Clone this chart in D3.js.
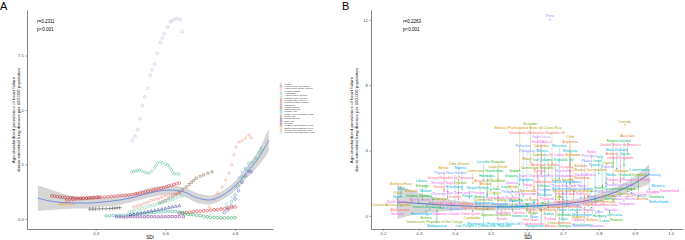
<!DOCTYPE html>
<html>
<head>
<meta charset="utf-8">
<script src="https://cdn.jsdelivr.net/npm/d3@7"></script>
<style>
  body { margin: 0; background: #fff; }
  svg { display: block; font-family: "Liberation Sans", Arial, sans-serif; }
</style>
</head>
<body>
<svg id="chart" width="685" height="240"></svg>
<script>
// ---------- Panel A: regional trajectories (SDI, prevalence) ----------
const regionNames = ["Global", "High-income Asia Pacific", "High-income North America", "Western Europe",
  "Australasia", "Andean Latin America", "Tropical Latin America", "Central Latin America",
  "Southern Latin America", "Caribbean", "Central Europe", "Eastern Europe", "Central Asia",
  "North Africa and Middle East", "South Asia", "Southeast Asia", "East Asia", "Oceania",
  "Western Sub-Saharan Africa", "Eastern Sub-Saharan Africa", "Central Sub-Saharan Africa",
  "Southern Sub-Saharan Africa"];

const globalA = [[0.51,0.55],[0.52,0.6],[0.53,0.64],[0.54,0.72],[0.55,0.77],[0.56,0.85],[0.57,0.9],[0.58,0.93],[0.59,1.0],[0.6,1.06],[0.61,1.09],[0.62,1.13],[0.63,1.18],[0.64,1.2]];
const hiAsiaPacific = [[0.77,0.3],[0.78,0.42],[0.79,0.6],[0.8,0.92],[0.81,1.3],[0.82,1.68],[0.83,1.98],[0.84,2.2],[0.846,2.16]];
const hiNorthAmerica = [[0.726,0.55],[0.74,0.9],[0.75,1.2],[0.763,1.47],[0.773,1.8],[0.783,2.11],[0.79,2.5],[0.797,2.94],[0.803,3.3],[0.811,3.53],[0.82,3.6],[0.83,3.7],[0.84,3.85],[0.846,3.72]];
const westernEurope = [[0.746,0.4],[0.76,0.5],[0.775,0.72],[0.79,1.0],[0.803,1.47],[0.81,1.9],[0.82,2.15],[0.83,2.3],[0.84,2.4]];
const australasia = [[0.777,0.55],[0.79,0.8],[0.8,1.1],[0.81,1.5],[0.82,1.92],[0.83,2.3],[0.84,2.55],[0.85,2.6],[0.86,2.78],[0.87,3.05],[0.875,3.22]];
const andeanLA = [[0.506,3.6],[0.513,3.8],[0.52,4.1],[0.527,4.6],[0.534,5.2],[0.541,5.6],[0.549,6.0],[0.557,6.6],[0.563,6.85],[0.569,7.1],[0.577,7.6],[0.586,8.1],[0.592,8.3],[0.597,8.5],[0.606,8.8],[0.614,9.05],[0.62,9.1],[0.626,9.15],[0.634,9.2],[0.643,9.15],[0.649,8.6]];
const tropicalLA = [[0.503,2.16],[0.509,2.18],[0.515,2.2],[0.52,2.23],[0.526,2.25],[0.533,2.2],[0.54,2.15],[0.547,2.12],[0.554,2.11],[0.562,2.2],[0.569,2.34],[0.573,2.45],[0.577,2.57],[0.585,2.62],[0.591,2.57],[0.6,2.52],[0.606,2.48],[0.612,2.38],[0.617,2.25],[0.621,2.15],[0.626,2.06],[0.633,2.08],[0.64,2.06]];
const centralLA = [[0.52,1.17],[0.528,1.19],[0.535,1.2],[0.543,1.23],[0.55,1.26],[0.558,1.28],[0.565,1.31],[0.572,1.35],[0.58,1.38],[0.588,1.41],[0.595,1.44],[0.603,1.48],[0.61,1.52],[0.618,1.55],[0.625,1.58],[0.632,1.62],[0.64,1.65]];
const southernLA = [[0.583,0.73],[0.592,0.79],[0.6,0.85],[0.61,0.93],[0.62,1.01],[0.63,1.1],[0.64,1.22],[0.65,1.34],[0.66,1.47],[0.668,1.58],[0.675,1.68],[0.682,1.78],[0.689,1.88],[0.7,1.96],[0.71,2.02],[0.722,2.1],[0.734,2.16]];
const caribbean = [];
const centralEurope = [[0.64,0.27],[0.65,0.28],[0.66,0.3],[0.67,0.31],[0.68,0.33],[0.69,0.35],[0.7,0.36],[0.71,0.37],[0.72,0.38],[0.73,0.4],[0.74,0.42],[0.75,0.43],[0.76,0.45],[0.77,0.47],[0.78,0.5],[0.79,0.52],[0.8,0.55]];
const easternEurope = [[0.649,0.25],[0.657,0.24],[0.665,0.22],[0.672,0.21],[0.68,0.2],[0.69,0.17],[0.7,0.15],[0.71,0.12],[0.72,0.1],[0.73,0.08],[0.74,0.07],[0.75,0.06],[0.76,0.05],[0.77,0.05],[0.78,0.05],[0.79,0.05],[0.8,0.06]];
const centralAsia = [[0.43,0.14],[0.44,0.14],[0.45,0.15],[0.46,0.16],[0.47,0.16],[0.48,0.17],[0.49,0.18],[0.5,0.19],[0.51,0.2],[0.52,0.22],[0.53,0.24],[0.54,0.25],[0.55,0.27],[0.56,0.29],[0.57,0.3],[0.58,0.32],[0.59,0.33],[0.6,0.34],[0.61,0.35],[0.62,0.35],[0.63,0.34],[0.64,0.32],[0.649,0.3]];
const northAfricaME = [[0.497,0.32],[0.504,0.35],[0.51,0.38],[0.518,0.41],[0.525,0.45],[0.532,0.48],[0.54,0.52],[0.548,0.56],[0.556,0.6],[0.563,0.63],[0.57,0.66],[0.578,0.69],[0.585,0.72],[0.592,0.76],[0.6,0.8],[0.608,0.84],[0.615,0.88],[0.622,0.92],[0.63,0.96],[0.64,1.0],[0.649,1.05]];
const southAsia = [[0.317,0.87],[0.326,0.89],[0.335,0.9],[0.345,0.91],[0.355,0.92],[0.365,0.94],[0.375,0.95],[0.385,0.97],[0.395,0.98],[0.405,0.99],[0.415,1.0],[0.425,1.01],[0.435,1.02],[0.445,1.04],[0.455,1.05],[0.465,1.07],[0.475,1.08],[0.485,1.09],[0.495,1.1],[0.505,1.12],[0.515,1.15]];
const southeastAsia = [[0.5,0.2],[0.51,0.22],[0.52,0.25],[0.53,0.27],[0.54,0.3],[0.55,0.33],[0.56,0.36],[0.57,0.39],[0.58,0.42],[0.59,0.45],[0.6,0.48],[0.61,0.52],[0.62,0.55],[0.63,0.58],[0.64,0.6]];
const eastAsia = [[0.46,0.1],[0.47,0.1],[0.48,0.09],[0.49,0.1],[0.5,0.1],[0.51,0.1],[0.52,0.1],[0.53,0.1],[0.54,0.1],[0.55,0.11],[0.56,0.11],[0.57,0.1],[0.58,0.1],[0.59,0.1],[0.6,0.1],[0.61,0.11],[0.62,0.11],[0.63,0.11],[0.64,0.11],[0.652,0.1]];
const oceania = [[0.383,0.45],[0.392,0.45],[0.4,0.46],[0.41,0.46],[0.42,0.47],[0.43,0.47],[0.44,0.48],[0.448,0.49],[0.455,0.5],[0.462,0.51],[0.469,0.52]];
const westernSSA = [[0.274,1.06],[0.282,1.05],[0.29,1.03],[0.298,1.01],[0.305,1.0],[0.312,0.99],[0.32,0.98],[0.328,0.97],[0.335,0.97],[0.343,0.96],[0.35,0.96],[0.358,0.96],[0.365,0.96],[0.373,0.96],[0.38,0.97],[0.388,0.97],[0.395,0.98],[0.403,0.99],[0.41,1.0]];
const easternSSA = [[0.297,0.69],[0.301,0.7],[0.305,0.7],[0.31,0.7],[0.315,0.69],[0.32,0.7],[0.325,0.7],[0.331,0.7],[0.337,0.71]];
const centralSSA = [];
const southernSSA = [];

const regionSeries = [globalA, hiAsiaPacific, hiNorthAmerica, westernEurope, australasia, andeanLA, tropicalLA,
  centralLA, southernLA, caribbean, centralEurope, easternEurope, centralAsia, northAfricaME, southAsia,
  southeastAsia, eastAsia, oceania, westernSSA, easternSSA, centralSSA, southernSSA];

// loess fit for panel A
const smoothSdiA = [0.234, 0.277, 0.33, 0.374, 0.42, 0.469, 0.51, 0.554, 0.611, 0.654, 0.689, 0.726, 0.763, 0.803, 0.84, 0.869, 0.897];
const smoothFitA = [0.96, 0.8, 0.74, 0.73, 0.78, 0.87, 1.0, 1.19, 1.33, 1.24, 0.98, 0.87, 1.08, 1.56, 2.25, 2.84, 3.62];
const smoothLoA  = [0.37, 0.42, 0.47, 0.48, 0.56, 0.64, 0.8, 0.98, 1.12, 1.02, 0.76, 0.66, 0.88, 1.34, 1.98, 2.48, 3.1];
const smoothHiA  = [1.55, 1.32, 1.05, 0.98, 1.0, 1.1, 1.2, 1.42, 1.52, 1.44, 1.2, 1.08, 1.28, 1.78, 2.52, 3.2, 4.15];

// ---------- Panel B: countries in 2019 ----------
const countries = ["Afghanistan","Albania","Algeria","American Samoa","Andorra","Angola","Antigua and Barbuda","Argentina","Armenia","Australia",
"Austria","Azerbaijan","Bahamas","Bahrain","Bangladesh","Barbados","Belarus","Belgium","Belize","Benin",
"Bermuda","Bhutan","Bolivia (Plurinational State of)","Bosnia and Herzegovina","Botswana","Brazil","Brunei Darussalam","Bulgaria","Burkina Faso","Burundi",
"Cape Verde","Cambodia","Cameroon","Canada","Central African Republic","Chad","Chile","China","Colombia","Comoros",
"Congo","Cook Islands","Costa Rica","Côte d'Ivoire","Croatia","Cuba","Cyprus","Czechia","Democratic People's Republic of Korea","Democratic Republic of the Congo",
"Denmark","Djibouti","Dominica","Dominican Republic","Ecuador","Egypt","El Salvador","Equatorial Guinea","Eritrea","Estonia",
"Eswatini","Ethiopia","Fiji","Finland","France","Gabon","Gambia","Georgia","Germany","Ghana",
"Greece","Greenland","Grenada","Guam","Guatemala","Guinea","Guinea-Bissau","Guyana","Haiti","Honduras",
"Hungary","Iceland","India","Indonesia","Iran (Islamic Republic of)","Iraq","Ireland","Israel","Italy","Jamaica",
"Japan","Jordan","Kazakhstan","Kenya","Kiribati","Kuwait","Kyrgyzstan","Lao People's Democratic Republic","Latvia","Lebanon",
"Lesotho","Liberia","Libya","Lithuania","Luxembourg","Madagascar","Malawi","Malaysia","Maldives","Mali",
"Malta","Marshall Islands","Mauritania","Mauritius","Mexico","Micronesia (Federated States of)","Monaco","Mongolia","Montenegro","Morocco",
"Mozambique","Myanmar","Namibia","Nauru","Nepal","Netherlands","New Zealand","Nicaragua","Niger","Nigeria",
"Niue","North Macedonia","Northern Mariana Islands","Norway","Oman","Pakistan","Palau","Palestine","Panama","Papua New Guinea",
"Paraguay","Peru","Philippines","Poland","Portugal","Puerto Rico","Qatar","Republic of Korea","Republic of Moldova","Romania",
"Russian Federation","Rwanda","Saint Kitts and Nevis","Saint Lucia","Saint Vincent and the Grenadines","Samoa","San Marino","Sao Tome and Principe","Saudi Arabia","Senegal",
"Serbia","Seychelles","Sierra Leone","Singapore","Slovakia","Slovenia","Solomon Islands","Somalia","South Africa","South Sudan",
"Spain","Sri Lanka","Sudan","Suriname","Sweden","Switzerland","Syrian Arab Republic","Taiwan (Province of China)","Tajikistan","Thailand",
"Timor-Leste","Togo","Tokelau","Tonga","Trinidad and Tobago","Tunisia","Turkey","Turkmenistan","Tuvalu","Uganda",
"Ukraine","United Arab Emirates","United Kingdom","United Republic of Tanzania","United States of America","United States Virgin Islands","Uruguay","Uzbekistan","Vanuatu","Venezuela (Bolivarian Republic of)",
"Viet Nam","Yemen","Zambia","Zimbabwe"];

const sdiB = [0.26,0.65,0.62,0.65,0.84,0.47,0.70,0.72,0.69,0.88,
0.88,0.66,0.73,0.72,0.48,0.72,0.77,0.86,0.58,0.37,
0.81,0.49,0.58,0.69,0.62,0.64,0.77,0.76,0.25,0.28,
0.52,0.45,0.45,0.872,0.26,0.24,0.72,0.68,0.64,0.39,
0.52,0.69,0.67,0.41,0.78,0.69,0.82,0.84,0.56,0.35,
0.91,0.41,0.66,0.62,0.61,0.60,0.56,0.54,0.32,0.83,
0.52,0.31,0.64,0.88,0.84,0.58,0.34,0.70,0.91,0.48,
0.79,0.78,0.70,0.77,0.50,0.30,0.33,0.58,0.36,0.49,
0.78,0.89,0.51,0.60,0.68,0.56,0.87,0.81,0.80,0.65,
0.87,0.66,0.74,0.46,0.49,0.79,0.64,0.48,0.80,0.71,
0.48,0.32,0.70,0.83,0.91,0.35,0.34,0.72,0.65,0.25,
0.82,0.56,0.38,0.69,0.65,0.52,0.94,0.64,0.74,0.56,
0.33,0.49,0.59,0.62,0.44,0.89,0.85,0.52,0.24,0.42,
0.62,0.71,0.73,0.94,0.70,0.42,0.75,0.59,0.66,0.40,
0.60,0.664,0.58,0.82,0.76,0.82,0.78,0.86,0.70,0.76,
0.76,0.38,0.71,0.64,0.65,0.57,0.85,0.48,0.76,0.37,
0.75,0.70,0.33,0.87,0.81,0.84,0.39,0.24,0.64,0.25,
0.78,0.67,0.39,0.61,0.89,0.93,0.52,0.84,0.55,0.65,
0.45,0.38,0.58,0.62,0.73,0.63,0.69,0.64,0.53,0.36,
0.74,0.76,0.86,0.41,0.86,0.76,0.72,0.63,0.44,0.63,
0.61,0.37,0.43,0.43];

const prevB = [0.35,0.45,0.6,1.2,2.0,0.6,1.0,2.4,0.4,3.9,
1.2,0.5,1.1,1.3,1.0,2.0,0.3,2.1,1.3,1.6,
1.9,1.4,2.8,0.5,1.8,1.9,0.6,0.4,1.7,0.9,
1.8,0.3,2.0,5.57,0.8,1.0,3.1,0.3,2.6,0.6,
0.9,1.0,3.2,2.2,0.7,1.2,2.0,0.9,0.3,0.7,
1.6,1.4,2.5,1.3,3.3,0.7,1.5,0.9,0.3,0.2,
2.2,1.0,0.3,1.5,3.0,1.9,1.0,0.2,1.2,1.0,
0.9,1.5,1.4,1.2,1.6,0.8,0.8,1.0,0.5,1.3,
0.5,1.6,1.3,0.7,1.0,1.2,3.1,1.8,2.6,1.5,
2.3,0.9,0.2,0.7,1.2,1.0,0.4,0.6,0.3,2.0,
2.2,1.7,0.3,0.3,1.8,0.3,0.5,2.0,1.4,1.2,
1.8,0.4,1.1,2.3,1.6,0.5,1.6,0.6,0.6,0.9,
0.4,0.4,1.2,0.8,1.1,1.4,2.9,0.5,0.6,1.6,
0.9,0.6,1.3,1.7,1.0,0.4,1.1,2.1,1.6,0.6,
1.7,12.0,0.8,2.0,1.7,1.6,0.9,1.2,0.4,0.5,
0.2,1.5,1.4,2.4,1.3,1.3,1.0,1.0,1.6,1.5,
0.5,1.1,0.7,0.9,0.7,1.2,0.4,0.5,2.5,0.6,
3.0,1.9,0.8,1.1,1.4,1.3,0.7,1.0,0.4,0.9,
0.3,1.2,0.8,1.6,1.5,0.7,0.8,0.3,0.6,0.6,
0.3,1.1,1.7,1.0,3.0,1.2,1.9,0.5,0.6,1.4,
0.6,0.9,0.8,0.4];

// loess fit for panel B
const smoothSdiB = [0.24, 0.3, 0.35, 0.4, 0.45, 0.5, 0.55, 0.6, 0.65, 0.7, 0.75, 0.8, 0.85, 0.9, 0.94];
const smoothFitB = [0.85, 0.76, 0.68, 0.62, 0.58, 0.55, 0.55, 0.58, 0.63, 0.72, 0.86, 1.1, 1.48, 2.0, 2.55];
const smoothLoB  = [-0.19, 0.12, 0.25, 0.32, 0.34, 0.33, 0.35, 0.38, 0.43, 0.5, 0.63, 0.85, 1.18, 1.6, 1.95];
const smoothHiB  = [1.9, 1.4, 1.1, 0.93, 0.82, 0.77, 0.75, 0.78, 0.83, 0.94, 1.09, 1.36, 1.78, 2.4, 3.15];

const yTicksA = [0.0, 2.5, 5.0, 7.5];
const xTicksA = [0.4, 0.6, 0.8];
const yTicksB = [0, 4, 8, 12];
const xTicksB = [0.2, 0.3, 0.4, 0.5, 0.6, 0.7, 0.8, 0.9, 1.0];

// ---------- styles ----------
const regionColors = ["#F3958C", "#4F63B0", "#F5A98E", "#9DB5EA", "#58BFA0", "#B3B8E3", "#5FBF98",
  "#E8333A", "#8F7058", "#7C83C8", "#E0262B", "#2E9E5B", "#45B5B0", "#93D6BF", "#E3373E",
  "#3C4C9C", "#7D3C98", "#555555", "#B8393C", "#E3A95B", "#F2A07A", "#8FD0A8"];
const shapeList = [d3.symbolSquare2, d3.symbolCircle, d3.symbolTriangle2, d3.symbolTimes, d3.symbolCircle,
  d3.symbolCircle, d3.symbolDiamond2, d3.symbolCircle, d3.symbolSquare2, d3.symbolPlus, d3.symbolCircle,
  d3.symbolCircle, d3.symbolSquare2, d3.symbolCircle, d3.symbolCircle, d3.symbolTriangle2, d3.symbolSquare2,
  d3.symbolPlus, d3.symbolCircle, d3.symbolDiamond2, d3.symbolCircle, d3.symbolCircle];

// ggplot-like hue palette (polar LUV)
function hueColor(h, c, l) {
  const hr = h * Math.PI / 180;
  const U = c * Math.cos(hr), V = c * Math.sin(hr);
  const Xn = 95.047, Yn = 100, Zn = 108.883;
  const den = Xn + 15 * Yn + 3 * Zn;
  const un = 4 * Xn / den, vn = 9 * Yn / den;
  const Y = Yn * Math.pow((l + 16) / 116, 3);
  const u = U / (13 * l) + un, v = V / (13 * l) + vn;
  const X = 9 * Y * u / (4 * v);
  const Z = Y * (12 - 3 * u - 20 * v) / (4 * v);
  const x = X / 100, y = Y / 100, z = Z / 100;
  let r = 3.2404542 * x - 1.5371385 * y - 0.4985314 * z;
  let g = -0.969266 * x + 1.8760108 * y + 0.041556 * z;
  let b = 0.0556434 * x - 0.2040259 * y + 1.0572252 * z;
  const gam = t => { t = Math.max(0, Math.min(1, t)); return t <= 0.0031308 ? 12.92 * t : 1.055 * Math.pow(t, 1 / 2.4) - 0.055; };
  return d3.rgb(gam(r) * 255, gam(g) * 255, gam(b) * 255).formatHex();
}
const countryColor = countries.map((c, i) => hueColor(15 + 360 * i / countries.length, 100, 65));

const svg = d3.select('#chart');
const axisGrey = "#4D4D4D";

function drawAxes(g, x, y, xt, yt, xfmt, yfmt, left, bottom) {
  const ax = g.append('g').attr('transform', `translate(0,${bottom})`)
    .call(d3.axisBottom(x).tickValues(xt).tickFormat(xfmt).tickSize(1.6).tickSizeOuter(0).tickPadding(1.5));
  const ay = g.append('g').attr('transform', `translate(${left},0)`)
    .call(d3.axisLeft(y).tickValues(yt).tickFormat(yfmt).tickSize(1.6).tickSizeOuter(0).tickPadding(1.5));
  [ax, ay].forEach(a => {
    a.select('.domain').attr('stroke', '#333').attr('stroke-width', 0.6);
    a.selectAll('.tick line').attr('stroke', '#333').attr('stroke-width', 0.5);
    a.selectAll('.tick text').attr('fill', axisGrey).style('font-size', '4.3px').style('font-family', 'inherit');
  });
}

function yTitle(g, cx, cy) {
  const t = g.append('text').attr('transform', `translate(${cx},${cy}) rotate(-90)`)
    .attr('text-anchor', 'middle').style('font-size', '4.4px').attr('fill', '#222');
  t.append('tspan').attr('x', 0).attr('dy', 0).text('Age-standardized prevalence of heart failure');
  t.append('tspan').attr('x', 0).attr('dy', '1.15em').text('due to interstitial lung disease per 100,000 population');
}

// ================= Panel A =================
const gA = svg.append('g');
const xA = d3.scaleLinear().domain([0.203, 0.909]).range([27, 273]);
const yA = d3.scaleLinear().domain([-0.46, 9.59]).range([229, 10]);

gA.append('text').attr('x', 0).attr('y', 10).style('font-size', '11px').text('A');
yTitle(gA, 15, 120);

const bandA = smoothSdiA.map((s, i) => ({ s, f: smoothFitA[i], lo: smoothLoA[i], hi: smoothHiA[i] }));
gA.append('path').datum(bandA)
  .attr('fill', '#999').attr('opacity', 0.4)
  .attr('d', d3.area().curve(d3.curveMonotoneX).x(d => xA(d.s)).y0(d => yA(d.lo)).y1(d => yA(d.hi)));

regionSeries.forEach((ser, i) => {
  if (!ser.length) return;
  gA.selectAll(null).data(ser).enter().append('path')
    .attr('transform', d => `translate(${xA(d[0])},${yA(d[1])})`)
    .attr('d', d3.symbol().type(shapeList[i]).size(6))
    .attr('fill', 'none').attr('stroke', regionColors[i]).attr('stroke-width', 0.55);
});

gA.append('path').datum(bandA)
  .attr('fill', 'none').attr('stroke', '#5A82E0').attr('stroke-width', 0.8)
  .attr('d', d3.line().curve(d3.curveMonotoneX).x(d => xA(d.s)).y(d => yA(d.f)));

drawAxes(gA, xA, yA, xTicksA, yTicksA, d3.format('.1f'), d3.format('.1f'), 27, 229);
gA.append('text').attr('x', 150).attr('y', 239).attr('text-anchor', 'middle').style('font-size', '4.6px').text('SDI');
gA.append('text').attr('x', 37).attr('y', 22.5).style('font-size', '4.5px').text('r=0.2311');
gA.append('text').attr('x', 37).attr('y', 30.5).style('font-size', '4.5px').text('p<0.001');

// legend
const leg = gA.append('g');
regionNames.forEach((name, i) => {
  const yy = 84 + i * 2.3;
  leg.append('path').attr('transform', `translate(281,${yy})`)
    .attr('d', d3.symbol().type(shapeList[i]).size(3))
    .attr('fill', 'none').attr('stroke', regionColors[i]).attr('stroke-width', 0.45);
  leg.append('text').attr('x', 284.5).attr('y', yy).attr('dy', '0.35em')
    .style('font-size', '2.3px').attr('fill', '#333').text(name);
});

// ================= Panel B =================
const gB = svg.append('g');
const xB = d3.scaleLinear().domain([0.167, 1.034]).range([371, 683]);
const yB = d3.scaleLinear().domain([-0.81, 12.6]).range([229, 10]);

gB.append('text').attr('x', 342).attr('y', 10).style('font-size', '11px').text('B');
yTitle(gB, 353, 120);

const bandB = smoothSdiB.map((s, i) => ({ s, f: smoothFitB[i], lo: smoothLoB[i], hi: smoothHiB[i] }));
gB.append('path').datum(bandB)
  .attr('fill', '#999').attr('opacity', 0.4)
  .attr('d', d3.area().curve(d3.curveMonotoneX).x(d => xB(d.s)).y0(d => yB(d.lo)).y1(d => yB(d.hi)));
gB.append('path').datum(bandB)
  .attr('fill', 'none').attr('stroke', '#3D5FB8').attr('stroke-width', 0.8)
  .attr('d', d3.line().curve(d3.curveMonotoneX).x(d => xB(d.s)).y(d => yB(d.f)));

// labels with a simple repel layout
const fsLab = 3.7;
const labG = gB.append('g');
const labels = countries.map((name, i) => {
  const px = xB(sdiB[i]), py = yB(prevB[i]);
  const t = labG.append('text').attr('text-anchor', 'middle').attr('dy', '0.35em')
    .style('font-size', fsLab + 'px').attr('fill', countryColor[i]).text(name);
  return { i, name, px, py, x: px + ((i % 3) - 1) * 2, y: py - 4, w: t.node().getComputedTextLength(), h: fsLab * 1.1, t };
});

const bx0 = 372, bx1 = 684, by0 = 120, by1 = 228;
for (let it = 0; it < 900; it++) {
  for (let a = 0; a < labels.length; a++) {
    const A = labels[a];
    for (let b = a + 1; b < labels.length; b++) {
      const B = labels[b];
      const dx = B.x - A.x, dy = B.y - A.y;
      const ox = (A.w + B.w) / 2 + 0.8 - Math.abs(dx);
      const oy = (A.h + B.h) / 2 + 0.5 - Math.abs(dy);
      if (ox > 0 && oy > 0) {
        if (oy * 2 < ox) {
          const s = (dy !== 0 ? Math.sign(dy) : (b % 2 ? 1 : -1)) * oy * 0.5;
          A.y -= s; B.y += s;
        } else {
          const s = (dx !== 0 ? Math.sign(dx) : (b % 2 ? 1 : -1)) * ox * 0.5;
          A.x -= s; B.x += s;
        }
      }
    }
    // keep off data points
    for (const P of labels) {
      if (Math.abs(P.px - A.x) < A.w / 2 + 0.5 && Math.abs(P.py - A.y) < A.h / 2 + 0.5) {
        A.y += (P.py >= A.y ? -1 : 1) * 0.3;
      }
    }
  }
  const k = it < 600 ? 0.006 : 0;
  labels.forEach(L => {
    L.x += (L.px - L.x) * k;
    L.y += (L.py - 4 - L.y) * k;
    const top = L.py < by0 ? 11 : by0;
    L.x = Math.max(bx0 + L.w / 2, Math.min(bx1 - L.w / 2, L.x));
    L.y = Math.max(top + L.h / 2, Math.min(by1 - L.h / 2, L.y));
  });
}

const segG = gB.insert('g', () => labG.node());
labels.forEach(L => {
  L.t.attr('x', L.x).attr('y', L.y);
  const cx = Math.max(L.x - L.w / 2, Math.min(L.x + L.w / 2, L.px));
  const cy = Math.max(L.y - L.h / 2, Math.min(L.y + L.h / 2, L.py));
  if (Math.hypot(cx - L.px, cy - L.py) > 1.2) {
    segG.append('line').attr('x1', L.px).attr('y1', L.py).attr('x2', cx).attr('y2', cy)
      .attr('stroke', countryColor[L.i]).attr('stroke-width', 0.3);
  }
});

gB.append('g').selectAll('circle').data(countries).enter().append('circle')
  .attr('cx', (d, i) => xB(sdiB[i])).attr('cy', (d, i) => yB(prevB[i]))
  .attr('r', 0.6).attr('fill', (d, i) => countryColor[i]);

drawAxes(gB, xB, yB, xTicksB, yTicksB, d3.format('.1f'), d3.format('d'), 371, 229);
gB.append('text').attr('x', 528).attr('y', 239).attr('text-anchor', 'middle').style('font-size', '4.6px').text('SDI');
gB.append('text').attr('x', 403).attr('y', 22.5).style('font-size', '4.5px').text('r=0.2263');
gB.append('text').attr('x', 403).attr('y', 30.5).style('font-size', '4.5px').text('p<0.001');
</script>
</body>
</html>
